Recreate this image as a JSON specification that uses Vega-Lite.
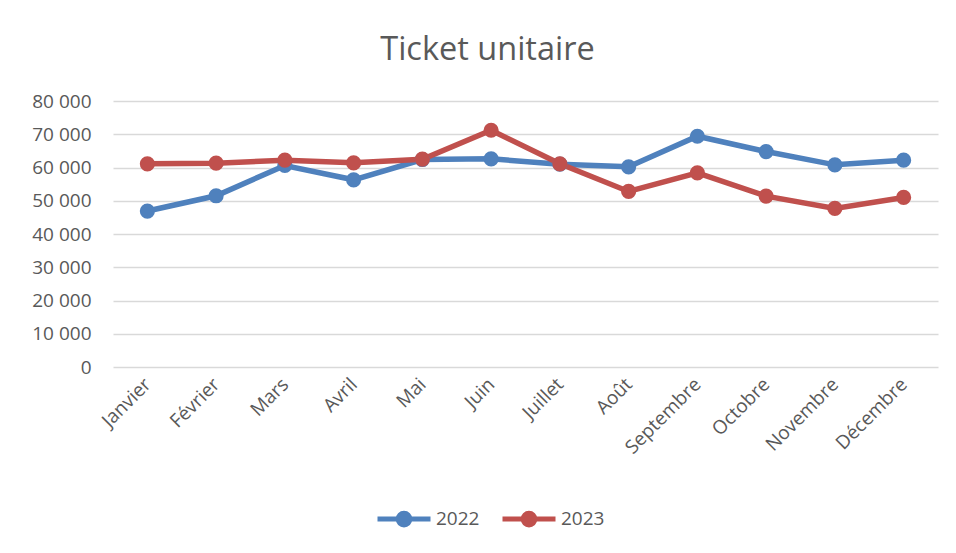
{
  "$schema": "https://vega.github.io/schema/vega-lite/v6.json",
  "autosize": "none",
  "width": 825,
  "height": 266,
  "padding": {"left": 113, "top": 101, "right": 18, "bottom": 186},
  "background": "white",
  "title": {
    "text": "Ticket unitaire",
    "font": "Open Sans",
    "fontSize": 32.5,
    "fontWeight": "normal",
    "color": "#595959",
    "anchor": "middle",
    "baseline": "alphabetic",
    "offset": 0,
    "dx": -38
  },
  "data": {
    "values": [
      {"mois": "Janvier", "annee": "2022", "valeur": 46900},
      {"mois": "Février", "annee": "2022", "valeur": 51500},
      {"mois": "Mars", "annee": "2022", "valeur": 60600},
      {"mois": "Avril", "annee": "2022", "valeur": 56300},
      {"mois": "Mai", "annee": "2022", "valeur": 62400},
      {"mois": "Juin", "annee": "2022", "valeur": 62600},
      {"mois": "Juillet", "annee": "2022", "valeur": 61000},
      {"mois": "Août", "annee": "2022", "valeur": 60200},
      {"mois": "Septembre", "annee": "2022", "valeur": 69400},
      {"mois": "Octobre", "annee": "2022", "valeur": 64800},
      {"mois": "Novembre", "annee": "2022", "valeur": 60800},
      {"mois": "Décembre", "annee": "2022", "valeur": 62200},
      {"mois": "Janvier", "annee": "2023", "valeur": 61100},
      {"mois": "Février", "annee": "2023", "valeur": 61300},
      {"mois": "Mars", "annee": "2023", "valeur": 62200},
      {"mois": "Avril", "annee": "2023", "valeur": 61400},
      {"mois": "Mai", "annee": "2023", "valeur": 62500},
      {"mois": "Juin", "annee": "2023", "valeur": 71200},
      {"mois": "Juillet", "annee": "2023", "valeur": 61100},
      {"mois": "Août", "annee": "2023", "valeur": 52800},
      {"mois": "Septembre", "annee": "2023", "valeur": 58400},
      {"mois": "Octobre", "annee": "2023", "valeur": 51400},
      {"mois": "Novembre", "annee": "2023", "valeur": 47700},
      {"mois": "Décembre", "annee": "2023", "valeur": 51000}
    ]
  },
  "mark": {
    "type": "line",
    "strokeWidth": 5.5,
    "point": {"filled": true, "size": 230}
  },
  "encoding": {
    "x": {
      "field": "mois",
      "type": "nominal",
      "sort": null,
      "scale": {"type": "point", "padding": 0.5},
      "axis": {
        "title": null,
        "labelAngle": -45,
        "labelAlign": "right",
        "labelBaseline": "middle",
        "labelFont": "Open Sans",
        "labelFontSize": 19,
        "labelColor": "#595959",
        "labelPadding": 14,
        "ticks": false,
        "domain": false,
        "grid": false
      }
    },
    "y": {
      "field": "valeur",
      "type": "quantitative",
      "scale": {"domain": [0, 80000], "nice": false},
      "axis": {
        "title": null,
        "values": [0, 10000, 20000, 30000, 40000, 50000, 60000, 70000, 80000],
        "labelExpr": "replace(format(datum.value, ','), ',', ' ')",
        "labelFont": "Open Sans",
        "labelFontSize": 19,
        "labelColor": "#595959",
        "labelPadding": 22,
        "ticks": false,
        "domain": false,
        "grid": true,
        "gridColor": "#d9d9d9",
        "gridWidth": 1.3
      }
    },
    "color": {
      "field": "annee",
      "type": "nominal",
      "scale": {"domain": ["2022", "2023"], "range": ["#4F81BD", "#C0504D"]},
      "legend": {
        "title": null,
        "orient": "none",
        "direction": "horizontal",
        "legendX": 262,
        "legendY": 389,
        "symbolType": "M-1,0L1,0M-0.22,0A0.22,0.22,0,1,1,0.22,0A0.22,0.22,0,1,1,-0.22,0Z",
        "symbolSize": 2809,
        "symbolStrokeWidth": 5,
        "labelFont": "Open Sans",
        "labelFontSize": 19,
        "labelColor": "#595959",
        "labelOffset": 3,
        "columnPadding": 12
      }
    }
  },
  "config": {
    "view": {"stroke": null}
  }
}
